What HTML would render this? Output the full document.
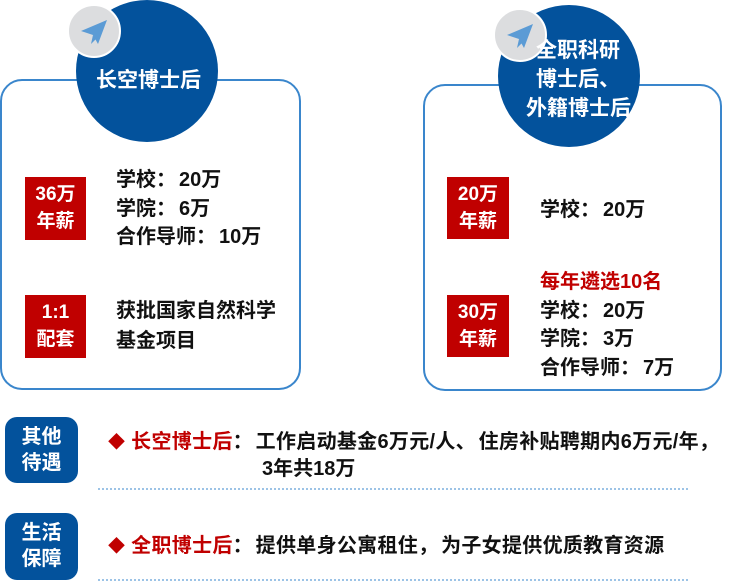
<!DOCTYPE html>
<html><head><meta charset="utf-8"><style>
*{margin:0;padding:0;box-sizing:border-box}
body{width:750px;height:584px;background:#fff;position:relative;overflow:hidden;font-family:"Liberation Sans","Noto Sans CJK SC",sans-serif;font-weight:bold}
.a{position:absolute;white-space:nowrap}
.box{position:absolute;border:2px solid #3a86cc;border-radius:22px}
.circ{position:absolute;border-radius:50%;background:#03529c}
.gray{position:absolute;border-radius:50%;background:#dcdddf;border:2px solid #fff}
.red{position:absolute;background:#c00000;color:#fff;text-align:center;font-size:19px;line-height:27px;padding-top:4px}
.t{position:absolute;font-size:20px;line-height:28.5px;color:#111;white-space:nowrap}
.c{letter-spacing:3px}
.badge{position:absolute;background:#03529c;border-radius:12px;color:#fff;font-size:20px;line-height:26px;text-align:center;padding-top:7px}
.dot{position:absolute;height:0;border-top:2px dotted #9cc3e6}
</style></head><body>
<div class="box" style="left:0;top:79px;width:301px;height:311px"></div>
<div class="box" style="left:423px;top:84px;width:299px;height:307px"></div>
<div class="circ" style="left:76px;top:0;width:142px;height:142px"></div>
<div class="circ" style="left:498px;top:5px;width:142px;height:142px"></div>
<div class="gray" style="left:67px;top:4px;width:54px;height:54px"><svg width="50" height="50" viewBox="0 0 50 50"><path d="M12 25 L38 14 L29 38 L24 29 Z" fill="#5b9bd5"/><path d="M24 29 L22 38 L27 33 Z" fill="#5b9bd5"/></svg></div>
<div class="gray" style="left:493px;top:8px;width:54px;height:54px"><svg width="50" height="50" viewBox="0 0 50 50"><path d="M12 25 L38 14 L29 38 L24 29 Z" fill="#5b9bd5"/><path d="M24 29 L22 38 L27 33 Z" fill="#5b9bd5"/></svg></div>
<div class="a" style="left:96px;top:64px;color:#fff;font-size:21px">长空博士后</div>
<div class="a" style="left:536px;top:36px;color:#fff;font-size:21px;line-height:29px">全职科研</div>
<div class="a" style="left:536px;top:65px;color:#fff;font-size:21px;line-height:29px">博士后、</div>
<div class="a" style="left:526px;top:94px;color:#fff;font-size:21px;line-height:29px">外籍博士后</div>

<div class="red" style="left:25px;top:177px;width:61px;height:63px">36万<br>年薪</div>
<div class="red" style="left:25px;top:295px;width:61px;height:63px">1:1<br>配套</div>
<div class="red" style="left:447px;top:177px;width:62px;height:62px">20万<br>年薪</div>
<div class="red" style="left:447px;top:295px;width:62px;height:62px">30万<br>年薪</div>

<div class="t" style="left:116px;top:166px">学校<span class="c">：</span>20万<br>学院<span class="c">：</span>6万<br>合作导师<span class="c">：</span>10万</div>
<div class="t" style="left:116px;top:296px;line-height:30px">获批国家自然科学<br>基金项目</div>
<div class="t" style="left:540px;top:196px">学校<span class="c">：</span>20万</div>
<div class="t" style="left:540px;top:268px"><span style="color:#c00000">每年遴选10名</span><br>学校<span class="c">：</span>20万<br>学院<span class="c">：</span>3万<br>合作导师<span class="c">：</span>7万</div>

<div class="badge" style="left:5px;top:417px;width:73px;height:66px">其他<br>待遇</div>
<div class="badge" style="left:5px;top:513px;width:73px;height:67px">生活<br>保障</div>
<div class="t" style="left:108px;top:428px;letter-spacing:0.3px"><span style="color:#c00000;font-size:17px">◆</span>&nbsp;<span style="color:#c00000">长空博士后</span><span class="c">：</span>工作启动基金6万元/人<span class="c">、</span>住房补贴聘期内6万元/年，</div>
<div class="t" style="left:262px;top:455px">3年共18万</div>
<div class="t" style="left:108px;top:532px;letter-spacing:0.3px"><span style="color:#c00000;font-size:17px">◆</span>&nbsp;<span style="color:#c00000">全职博士后</span><span class="c">：</span>提供单身公寓租住<span class="c">，</span>为子女提供优质教育资源</div>
<div class="dot" style="left:98px;top:488px;width:590px"></div>
<div class="dot" style="left:98px;top:579px;width:590px"></div>
</body></html>
